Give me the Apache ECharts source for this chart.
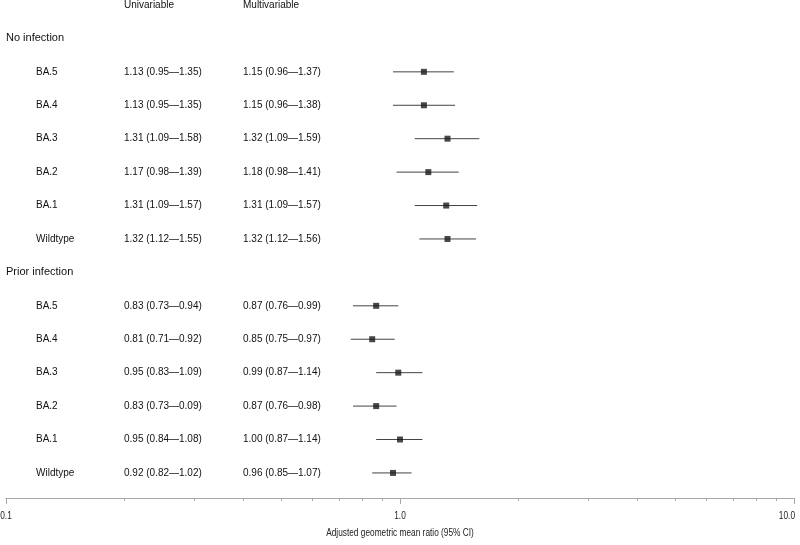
<!DOCTYPE html>
<html>
<head>
<meta charset="utf-8">
<script src="https://cdn.jsdelivr.net/npm/echarts@6/dist/echarts.min.js"></script>
<style>
  html, body { margin: 0; padding: 0; background: #fff; }
  #forestChart { width: 800px; height: 545px; }
</style>
</head>
<body>
<div id="forestChart"></div>
<script>
  // rows of the table / plot
  var variants = ['BA.5', 'BA.4', 'BA.3', 'BA.2', 'BA.1', 'Wildtype']
  var groups = ['No infection', 'Prior infection']
  var columnTitles = ['Univariable', 'Multivariable']
  var axisTitle = 'Adjusted geometric mean ratio (95% CI)'

  // [estimate, lower, upper]
  var noInfUni = [[1.13, 0.95, 1.35], [1.13, 0.95, 1.35], [1.31, 1.09, 1.58], [1.17, 0.98, 1.39], [1.31, 1.09, 1.57], [1.32, 1.12, 1.55]]
  var noInfMulti = [[1.15, 0.96, 1.37], [1.15, 0.96, 1.38], [1.32, 1.09, 1.59], [1.18, 0.98, 1.41], [1.31, 1.09, 1.57], [1.32, 1.12, 1.56]]
  var priorUni = [[0.83, 0.73, 0.94], [0.81, 0.71, 0.92], [0.95, 0.83, 1.09], [0.83, 0.73, 0.09], [0.95, 0.84, 1.08], [0.92, 0.82, 1.02]]
  var priorMulti = [[0.87, 0.76, 0.99], [0.85, 0.75, 0.97], [0.99, 0.87, 1.14], [0.87, 0.76, 0.98], [1.00, 0.87, 1.14], [0.96, 0.85, 1.07]]

  var majorTicks = [0.1, 1, 10]
  var minorTicks = [0.2, 0.3, 0.4, 0.5, 0.6, 0.7, 0.8, 0.9, 2, 3, 4, 5, 6, 7, 8, 9]

  var fmt = function (r) {
    return r[0].toFixed(2) + ' (' + r[1].toFixed(2) + '\u2014' + r[2].toFixed(2) + ')'
  }

  // build rows: k is the row position from the top
  var tableRows = [{k: -2, kind: 'head', uni: columnTitles[0], multi: columnTitles[1]}]
  var ciRows = []
  var pointRows = []
  var blocks = [[noInfUni, noInfMulti], [priorUni, priorMulti]]
  var k = -1
  blocks.forEach(function (b, gi) {
    tableRows.push({k: k, kind: 'group', label: groups[gi]})
    k++
    variants.forEach(function (v, i) {
      tableRows.push({k: k, kind: 'row', label: v, uni: fmt(b[0][i]), multi: fmt(b[1][i])})
      ciRows.push([b[1][i][1], b[1][i][2], k])
      pointRows.push([b[1][i][0], k])
      k++
    })
  })

  var yMin = -2
  var yMax = 12.75
  var narrow = 0.83 // axis text in the reference is condensed
  var textFont = '"Liberation Sans", Arial, Helvetica, sans-serif'

  var chart = echarts.init(document.getElementById('forestChart'))
  var option = {
    animation: false,
    grid: {left: 6, right: 6, top: 5, height: 493},
    graphic: [
      {
        type: 'text',
        x: 400,
        y: 533,
        scaleX: narrow,
        silent: true,
        style: {text: axisTitle, fontSize: 10, fontFamily: textFont, fill: '#222', align: 'center', verticalAlign: 'middle'},
      },
    ],
    xAxis: [
      {
        type: 'log',
        logBase: 10,
        min: 0.1,
        max: 10,
        axisLine: {show: true, onZero: false, lineStyle: {color: '#a8a8a8', width: 1}},
        axisTick: {show: true, customValues: majorTicks, length: 6, lineStyle: {color: '#a8a8a8'}},
        axisLabel: {show: false},
        splitLine: {show: false},
        minorTick: {show: false},
      },
      {
        type: 'log',
        logBase: 10,
        min: 0.1,
        max: 10,
        position: 'bottom',
        axisLine: {show: false, onZero: false},
        axisTick: {show: true, customValues: minorTicks, length: 3, lineStyle: {color: '#a8a8a8'}},
        axisLabel: {show: false},
        splitLine: {show: false},
      },
    ],
    yAxis: {
      type: 'value',
      inverse: true,
      min: yMin,
      max: yMax,
      show: false,
    },
    series: [
      {
        type: 'custom',
        name: 'table',
        silent: true,
        data: tableRows.map(function (r) { return [1, r.k] }),
        encode: {x: 0, y: 1},
        clip: false,
        renderItem: function (params, api) {
          var r = tableRows[params.dataIndex]
          var y = api.coord([1, r.k])[1]
          var base = {fill: '#111', fontFamily: textFont, verticalAlign: 'middle', align: 'left'}
          var kids = []
          if (r.kind === 'group') {
            kids.push({type: 'text', style: Object.assign({}, base, {x: 6, y: y, text: r.label, fontSize: 11})})
          } else {
            if (r.label) {
              kids.push({type: 'text', style: Object.assign({}, base, {x: 36, y: y, text: r.label, fontSize: 10})})
            }
            kids.push({type: 'text', style: Object.assign({}, base, {x: 124, y: y, text: r.uni, fontSize: 10})})
            kids.push({type: 'text', style: Object.assign({}, base, {x: 243, y: y, text: r.multi, fontSize: 10})})
          }
          return {type: 'group', children: kids}
        },
      },
      {
        // tick labels of the log axis, condensed
        type: 'custom',
        name: 'tickLabels',
        silent: true,
        data: majorTicks.map(function (v) { return [v, yMax] }),
        encode: {x: 0, y: 1},
        clip: false,
        renderItem: function (params, api) {
          var v = api.value(0)
          var p = api.coord([v, yMax])
          var last = params.dataIndex === majorTicks.length - 1
          return {
            type: 'text',
            x: p[0] + (last ? 1 : 0),
            y: p[1] + 18,
            scaleX: narrow,
            style: {
              text: Number(v).toFixed(1),
              fontSize: 10,
              fontFamily: textFont,
              fill: '#222',
              align: last ? 'right' : 'center',
              verticalAlign: 'middle',
            },
          }
        },
      },
      {
        type: 'custom',
        name: 'ci',
        silent: true,
        data: ciRows,
        encode: {x: [0, 1], y: 2},
        renderItem: function (params, api) {
          var a = api.coord([api.value(0), api.value(2)])
          var b = api.coord([api.value(1), api.value(2)])
          return {
            type: 'line',
            shape: {x1: a[0], y1: a[1], x2: b[0], y2: b[1]},
            style: {stroke: '#444', lineWidth: 1},
          }
        },
      },
      {
        type: 'scatter',
        name: 'estimate',
        silent: true,
        symbol: 'rect',
        symbolSize: 6,
        itemStyle: {color: '#1a1a1a'},
        data: pointRows,
      },
    ],
  }
  chart.setOption(option)
</script>
</body>
</html>
